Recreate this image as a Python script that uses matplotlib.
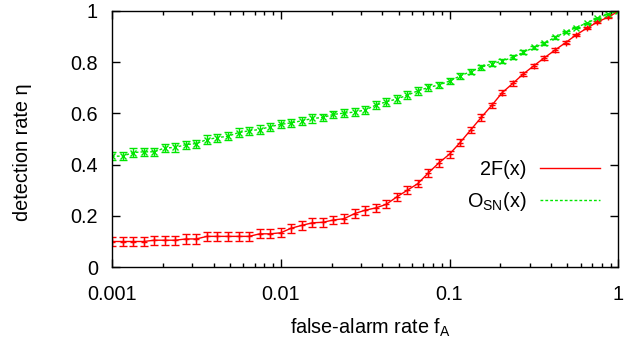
import numpy as np
import matplotlib
matplotlib.use("Agg")
import matplotlib.pyplot as plt

plt.rcParams['font.family'] = ['Liberation Sans', 'DejaVu Sans']
plt.rcParams['mathtext.fontset'] = 'custom'
plt.rcParams['mathtext.rm'] = 'Liberation Sans'
plt.rcParams['mathtext.it'] = 'Liberation Sans'

# false-alarm rate, 16 points per decade from 0.001 to 1
fa = 10 ** (np.arange(49) / 16.0 - 3)

eta_2f = [0.100, 0.100, 0.100, 0.100, 0.105, 0.105, 0.105, 0.110, 0.110, 0.120,
          0.120, 0.120, 0.120, 0.120, 0.130, 0.130, 0.134, 0.152, 0.163, 0.173,
          0.175, 0.184, 0.189, 0.209, 0.222, 0.231, 0.245, 0.274, 0.300, 0.326,
          0.368, 0.407, 0.441, 0.486, 0.535, 0.584, 0.631, 0.681, 0.717, 0.754,
          0.786, 0.817, 0.847, 0.876, 0.906, 0.932, 0.956, 0.975, 0.998]
err_2f = [0.018] * 17 + [0.017] * 8 + [0.016, 0.016, 0.016, 0.016, 0.015, 0.015,
          0.015, 0.014, 0.014, 0.013, 0.012, 0.011, 0.010, 0.010, 0.009, 0.008,
          0.008, 0.007, 0.006, 0.005, 0.004, 0.003, 0.002, 0.001]

eta_osn = [0.433, 0.433, 0.447, 0.450, 0.450, 0.465, 0.467, 0.478, 0.482, 0.498,
           0.505, 0.511, 0.525, 0.532, 0.537, 0.548, 0.557, 0.563, 0.571, 0.580,
           0.584, 0.596, 0.601, 0.605, 0.613, 0.632, 0.645, 0.656, 0.671, 0.688,
           0.701, 0.711, 0.726, 0.746, 0.763, 0.780, 0.793, 0.804, 0.819, 0.838,
           0.857, 0.874, 0.897, 0.917, 0.935, 0.952, 0.971, 0.987, 1.000]
err_osn = [0.016] * 20 + [0.015] * 10 + [0.014, 0.013, 0.012, 0.012, 0.011, 0.010,
           0.010, 0.009, 0.008, 0.008, 0.007, 0.006, 0.005, 0.004, 0.003, 0.002,
           0.001, 0.001, 0.0]

red = '#ff0000'
green = '#00e600'
fs = 14.3

fig = plt.figure(figsize=(6.29, 3.39), dpi=100)
ax = fig.add_axes([0.178, 0.212, 0.805, 0.756])

ax.errorbar(fa, eta_2f, yerr=err_2f, color=red, lw=1.0, elinewidth=1.0,
            capsize=3, capthick=1.0, marker='+', ms=4, mew=1.0)
ax.errorbar(fa, eta_osn, yerr=err_osn, color=green, lw=1.0, ls=(0, (2, 1.5)),
            elinewidth=1.0, capsize=3, capthick=1.0, marker='x', ms=4, mew=1.0)

# legend entries as plain lines, gnuplot style
h1, = ax.plot([], [], color=red, lw=1.0)
h2, = ax.plot([], [], color=green, lw=1.0, ls=(0, (2, 1.5)))
ax.legend([h1, h2], ['2F(x)', r'O$_{\rm SN}$(x)'], loc='center right',
          bbox_to_anchor=(0.964, 0.315), frameon=False, markerfirst=False,
          borderpad=0, borderaxespad=0,
          handlelength=3.0, handletextpad=0.7, labelspacing=0.55, fontsize=fs)

ax.set_xscale('log')
ax.set_xlim(0.001, 1)
ax.set_ylim(0, 1)
ax.set_xticks([0.001, 0.01, 0.1, 1])
ax.set_xticklabels(['0.001', '0.01', '0.1', '1'])
ax.set_yticks([0, 0.2, 0.4, 0.6, 0.8, 1])
ax.set_yticklabels(['0', '0.2', '0.4', '0.6', '0.8', '1'])
ax.tick_params(which='both', direction='in', top=True, right=True,
               labelsize=fs, width=1.0)
ax.tick_params(which='major', length=6)
ax.tick_params(which='minor', length=3)
ax.tick_params(axis='x', which='major', pad=13)
ax.tick_params(axis='y', which='major', pad=10)
for s in ax.spines.values():
    s.set_linewidth(1.0)

ax.set_xlabel(r'false-alarm rate f$_{\rm A}$', fontsize=fs)
ax.set_ylabel('detection rate η', fontsize=fs)
ax.xaxis.set_label_coords(0.51, -0.195)
ax.yaxis.set_label_coords(-0.158, 0.45)

fig.savefig('out.png', dpi=100)
